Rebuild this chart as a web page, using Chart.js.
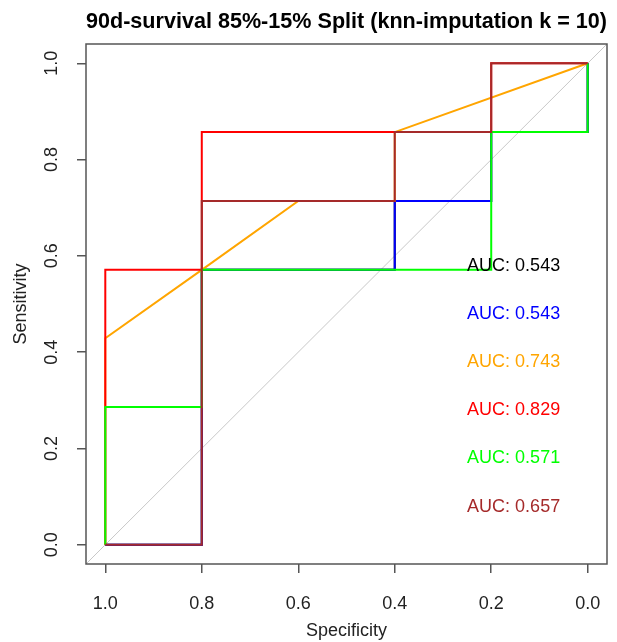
<!DOCTYPE html>
<html><head><meta charset="utf-8">
<script src="https://cdn.jsdelivr.net/npm/chart.js@4"></script>
<style>html,body{margin:0;padding:0;background:#fff;}#wrap{width:617px;height:642px;}</style>
</head><body><div id="wrap"><canvas id="c" width="617" height="642"></canvas></div>
<script>
const chartTitle = "90d-survival 85%-15% Split (knn-imputation k = 10)";
const xTitle = "Specificity";
const yTitle = "Sensitivity";
const tickValues = [0.0, 0.2, 0.4, 0.6, 0.8, 1.0];
const axisMin = -0.04, axisMax = 1.04;

const seriesColors = ["#000000", "#0000FF", "#FFA500", "#FF0000", "#00FF00", "#A52A2A"];
const aucValues = [0.543, 0.543, 0.743, 0.829, 0.571, 0.657];
const aucLabelSpec = 0.25;
const aucLabelSens = [0.6, 0.5, 0.4, 0.3, 0.2, 0.1];

const blackSpec = [1, 0.8, 0.8, 0.4, 0.4, 0.2, 0.2, 0, 0];
const blackSens = [0, 0, 0.571, 0.571, 0.714, 0.714, 0.857, 0.857, 1];
const blueSpec = [1, 0.8, 0.8, 0.4, 0.4, 0.2, 0.2, 0, 0];
const blueSens = [0, 0, 0.571, 0.571, 0.714, 0.714, 0.857, 0.857, 1];
const orangeSpec = [1, 1, 0.8, 0.6, 0.4, 0.4, 0];
const orangeSens = [0, 0.429, 0.571, 0.714, 0.714, 0.857, 1];
const redSpec = [1, 1, 0.8, 0.8, 0.2, 0.2, 0];
const redSens = [0, 0.571, 0.571, 0.857, 0.857, 1, 1];
const greenSpec = [1, 1, 0.8, 0.8, 0.2, 0.2, 0, 0];
const greenSens = [0, 0.286, 0.286, 0.571, 0.571, 0.857, 0.857, 1];
const brownSpec = [1, 0.8, 0.8, 0.4, 0.4, 0.2, 0.2, 0];
const brownSens = [0, 0, 0.714, 0.714, 0.857, 0.857, 1, 1];

const curves = [
  [blackSpec, blackSens], [blueSpec, blueSens], [orangeSpec, orangeSens],
  [redSpec, redSens], [greenSpec, greenSens], [brownSpec, brownSens]
];

const fontFam = "'Liberation Sans', Arial, Helvetica, sans-serif";
const toPts = (xs, ys) => xs.map((x, i) => ({x: x, y: ys[i]}));

const datasets = curves.map((c, i) => ({
  data: toPts(c[0], c[1]),
  showLine: true, borderColor: seriesColors[i], backgroundColor: seriesColors[i],
  borderWidth: 2, pointRadius: 0, tension: 0, fill: false,
  order: curves.length - i
}));
datasets.push({
  data: toPts([axisMax, axisMin], [axisMin, axisMax]),
  showLine: true, borderColor: '#C8C8C8', borderWidth: 1, pointRadius: 0, order: 100
});

const boxPlugin = {
  id: 'box',
  afterDraw(chart) {
    const a = chart.chartArea, ctx = chart.ctx;
    ctx.save();
    ctx.strokeStyle = '#555';
    ctx.lineWidth = 1.5;
    ctx.strokeRect(a.left, a.top, a.right - a.left, a.bottom - a.top);
    ctx.restore();
  }
};

const aucPlugin = {
  id: 'auc',
  afterDatasetsDraw(chart) {
    const ctx = chart.ctx, xs = chart.scales.x, ys = chart.scales.y;
    ctx.save();
    ctx.font = "18px " + fontFam;
    ctx.textAlign = 'left';
    ctx.textBaseline = 'top';
    aucValues.forEach((v, i) => {
      ctx.fillStyle = seriesColors[i];
      ctx.fillText("AUC: " + v.toFixed(3), xs.getPixelForValue(aucLabelSpec), ys.getPixelForValue(aucLabelSens[i]) + 1);
    });
    ctx.restore();
  }
};

const setTicks = s => { s.ticks = tickValues.map(v => ({value: v})); };

new Chart(document.getElementById('c'), {
  type: 'scatter',
  data: {datasets: datasets},
  options: {
    responsive: false, animation: false, devicePixelRatio: 1,
    layout: {padding: {left: 0, right: 10, top: 0, bottom: 0}},
    plugins: {
      legend: {display: false}, tooltip: {enabled: false},
      title: {display: true, text: chartTitle, fullSize: false, color: '#000',
        font: {family: fontFam, size: 21.6, weight: 'bold', lineHeight: 1.2},
        padding: {top: 9, bottom: 9.08}}
    },
    scales: {
      x: {
        type: 'linear', reverse: true, min: axisMin, max: axisMax,
        afterBuildTicks: setTicks, afterFit: s => { s.height = 78; },
        ticks: {callback: v => Number(v).toFixed(1), font: {family: fontFam, size: 18}, color: '#222',
          padding: 20, minRotation: 0, maxRotation: 0, autoSkip: false},
        grid: {drawOnChartArea: false, drawTicks: true, tickLength: 9, color: '#555', lineWidth: 1.5},
        border: {display: false},
        title: {display: true, text: xTitle, font: {family: fontFam, size: 18}, color: '#222', padding: {top: 0, bottom: 0}}
      },
      y: {
        type: 'linear', min: axisMin, max: axisMax,
        afterBuildTicks: setTicks, afterFit: s => { s.width = 86; },
        ticks: {callback: v => Number(v).toFixed(1), font: {family: fontFam, size: 18}, color: '#222',
          padding: 12.5, minRotation: 90, maxRotation: 90, crossAlign: 'center', autoSkip: false},
        grid: {drawOnChartArea: false, drawTicks: true, tickLength: 9, color: '#555', lineWidth: 1.5},
        border: {display: false},
        title: {display: true, text: yTitle, font: {family: fontFam, size: 18}, color: '#222', padding: {top: 10, bottom: 0}}
      }
    }
  },
  plugins: [boxPlugin, aucPlugin]
});
</script>
</body></html>
